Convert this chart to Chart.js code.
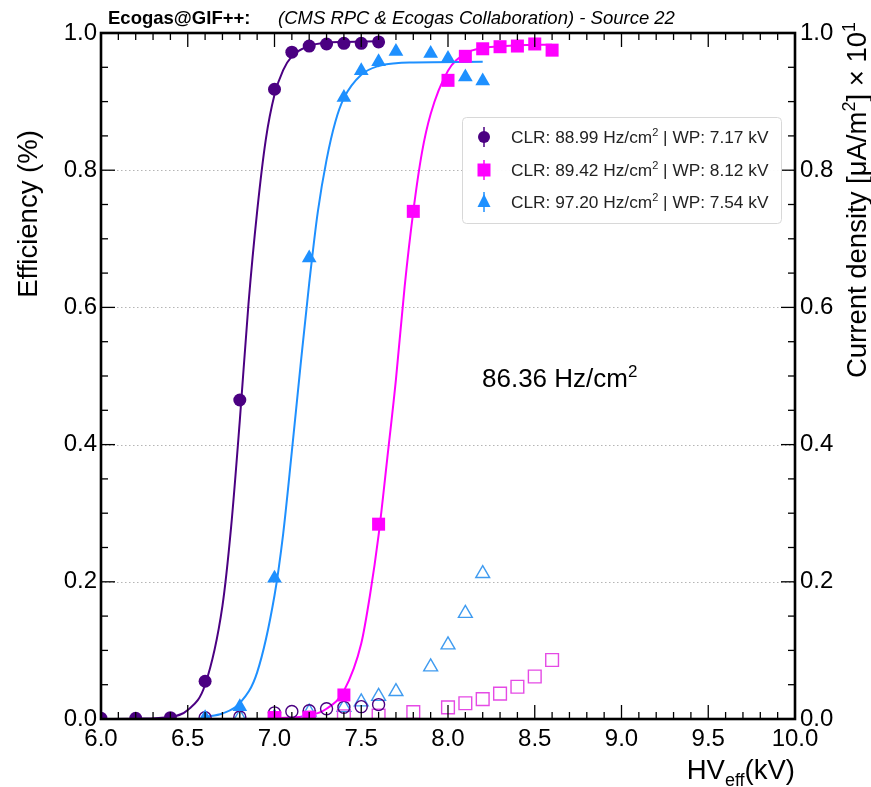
<!DOCTYPE html>
<html>
<head>
<meta charset="utf-8">
<script src="https://cdn.jsdelivr.net/npm/chart.js@4.4.0/dist/chart.umd.min.js"></script>
<style>
  body { margin: 0; background: #fff; }
  canvas { display: block; }
</style>
</head>
<body>
<canvas id="eff_chart" width="871" height="787"></canvas>
<script>
// ---- values ----
// efficiency points (left axis)
const hv_purple  = [6.0, 6.2, 6.4, 6.6, 6.8, 7.0, 7.1, 7.2, 7.3, 7.4, 7.5, 7.6];
const eff_purple = [0.001, 0.001, 0.002, 0.055, 0.465, 0.918, 0.972, 0.981, 0.984, 0.985, 0.985, 0.987];
const hv_magenta  = [7.0, 7.2, 7.4, 7.6, 7.8, 8.0, 8.1, 8.2, 8.3, 8.4, 8.5, 8.6];
const eff_magenta = [0.002, 0.002, 0.035, 0.284, 0.740, 0.931, 0.966, 0.977, 0.980, 0.981, 0.984, 0.975];
const hv_blue  = [6.6, 6.8, 7.0, 7.2, 7.4, 7.5, 7.6, 7.7, 7.9, 8.0, 8.1, 8.2];
const eff_blue = [0.002, 0.018, 0.205, 0.672, 0.906, 0.945, 0.958, 0.973, 0.970, 0.963, 0.936, 0.930];

// current density points (right axis, x 10^1 uA/m2)
const hv_cur_purple = [6.6, 6.8, 7.0, 7.1, 7.2, 7.3, 7.4, 7.5, 7.6];
const cur_purple    = [0.002, 0.003, 0.009, 0.011, 0.012, 0.015, 0.017, 0.018, 0.021];
const hv_cur_magenta = [7.0, 7.2, 7.4, 7.6, 7.8, 8.0, 8.1, 8.2, 8.3, 8.4, 8.5, 8.6];
const cur_magenta    = [0.001, 0.002, 0.004, 0.005, 0.010, 0.017, 0.023, 0.029, 0.037, 0.047, 0.062, 0.086];
const hv_cur_blue = [6.8, 7.0, 7.2, 7.4, 7.5, 7.6, 7.7, 7.9, 8.0, 8.1, 8.2];
const cur_blue    = [0.002, 0.002, 0.010, 0.017, 0.025, 0.033, 0.040, 0.076, 0.108, 0.154, 0.212];

// sigmoid fit curves, read at a few voltages
const fit_hv_purple  = [6.0, 6.2, 6.4, 6.5, 6.6, 6.7, 6.75, 6.8, 6.85, 6.9, 6.95, 7.0, 7.05, 7.1, 7.2, 7.3, 7.4, 7.6];
const fit_eff_purple = [0.0, 0.0005, 0.003, 0.013, 0.05, 0.165, 0.28, 0.435, 0.605, 0.74, 0.845, 0.91, 0.946, 0.966, 0.981, 0.986, 0.987, 0.988];
const fit_hv_blue  = [6.6, 6.7, 6.8, 6.9, 7.0, 7.05, 7.1, 7.15, 7.2, 7.25, 7.3, 7.35, 7.4, 7.5, 7.6, 7.7, 7.8, 8.2];
const fit_eff_blue = [0.003, 0.008, 0.023, 0.068, 0.18, 0.27, 0.39, 0.515, 0.635, 0.74, 0.815, 0.87, 0.905, 0.939, 0.952, 0.956, 0.957, 0.958];
const fit_hv_magenta  = [7.0, 7.2, 7.3, 7.4, 7.5, 7.55, 7.6, 7.65, 7.7, 7.75, 7.8, 7.85, 7.9, 8.0, 8.1, 8.2, 8.4, 8.6];
const fit_eff_magenta = [0.001, 0.005, 0.015, 0.041, 0.11, 0.18, 0.268, 0.38, 0.495, 0.63, 0.74, 0.826, 0.882, 0.945, 0.97, 0.978, 0.982, 0.983];

// tick labels
const x_tick_labels = ['6.0', '6.5', '7.0', '7.5', '8.0', '8.5', '9.0', '9.5', '10.0'];
const y_tick_labels = ['0.0', '0.2', '0.4', '0.6', '0.8', '1.0'];

// legend / annotation text
const legend_rates = ['88.99', '89.42', '97.20'];
const legend_wp    = ['7.17', '8.12', '7.54'];
const rate_label   = '86.36';

const PURPLE = '#4b0082';
const MAGENTA = '#ff00ff';
const BLUE = '#1e90ff';
const FONT = "'Liberation Sans', Arial, Helvetica, sans-serif";

function pts(xs, ys) { return xs.map((x, i) => ({ x: x, y: ys[i] })); }

// draws text made of normal / superscript / subscript pieces
function rich_text(ctx, segs, x, y, align, size, style) {
    style = style || '';
    const fontFor = t => `${style} ${t === 'n' ? size : Math.round(size * 0.66)}px ${FONT}`;
    let total = 0;
    for (const s of segs) { ctx.font = fontFor(s[1]); total += ctx.measureText(s[0]).width; }
    let cx = align === 'right' ? x - total : (align === 'center' ? x - total / 2 : x);
    ctx.textAlign = 'left';
    ctx.textBaseline = 'alphabetic';
    for (const s of segs) {
        ctx.font = fontFor(s[1]);
        const dy = s[1] === 'sup' ? -size * 0.4 : (s[1] === 'sub' ? size * 0.25 : 0);
        ctx.fillText(s[0], cx, y + dy);
        cx += ctx.measureText(s[0]).width;
    }
}

const decor = {
    id: 'decor',
    beforeDatasetsDraw(chart) {
        // dotted horizontal grid
        const ctx = chart.ctx, a = chart.chartArea, ys = chart.scales.y;
        ctx.save();
        ctx.strokeStyle = '#b5b5b5';
        ctx.lineWidth = 1;
        ctx.setLineDash([1.5, 2.5]);
        for (let i = 1; i < y_tick_labels.length - 1; i++) {
            const py = Math.round(ys.getPixelForValue(+y_tick_labels[i])) + 0.5;
            ctx.beginPath(); ctx.moveTo(a.left, py); ctx.lineTo(a.right, py); ctx.stroke();
        }
        ctx.restore();
    },
    afterDraw(chart) {
        const ctx = chart.ctx, a = chart.chartArea, xs = chart.scales.x, ys = chart.scales.y;
        ctx.save();
        ctx.fillStyle = '#000';
        ctx.strokeStyle = '#000';

        // inner ticks, ROOT style
        ctx.lineWidth = 1.3;
        const seg = (x1, y1, x2, y2) => { ctx.beginPath(); ctx.moveTo(x1, y1); ctx.lineTo(x2, y2); ctx.stroke(); };
        for (let i = 0; i <= 40; i++) {
            const px = xs.getPixelForValue(6 + i * 0.1);
            const len = i % 5 === 0 ? 14 : 7;
            seg(px, a.bottom, px, a.bottom - len);
            seg(px, a.top, px, a.top + len);
        }
        for (let i = 0; i <= 20; i++) {
            const py = ys.getPixelForValue(i * 0.05);
            const len = i % 4 === 0 ? 14 : 7;
            seg(a.left, py, a.left + len, py);
            seg(a.right, py, a.right - len, py);
        }

        // frame
        ctx.lineWidth = 2.6;
        ctx.strokeRect(a.left, a.top, a.right - a.left, a.bottom - a.top);

        // legend box
        const lx = 462, ly = 117, lw = 319, lh = 106;
        ctx.fillStyle = 'rgba(255,255,255,0.95)';
        ctx.strokeStyle = '#d8d8d8';
        ctx.lineWidth = 1;
        ctx.beginPath();
        ctx.roundRect(lx + 0.5, ly + 0.5, lw, lh, 4);
        ctx.fill(); ctx.stroke();
        const rows = [137, 170, 202];
        const cols = [PURPLE, MAGENTA, BLUE];
        for (let i = 0; i < 3; i++) {
            const mx = 484, my = rows[i];
            ctx.strokeStyle = cols[i]; ctx.fillStyle = cols[i]; ctx.lineWidth = 1.5;
            seg(mx, my - 10, mx, my + 10);
            ctx.beginPath();
            if (i === 0) ctx.arc(mx, my, 6, 0, Math.PI * 2);
            else if (i === 1) ctx.rect(mx - 6.5, my - 6.5, 13, 13);
            else { ctx.moveTo(mx, my - 8); ctx.lineTo(mx + 6.5, my + 5); ctx.lineTo(mx - 6.5, my + 5); ctx.closePath(); }
            ctx.fill();
            ctx.fillStyle = '#222';
            rich_text(ctx, [[`CLR: ${legend_rates[i]} Hz/cm`, 'n'], ['2', 'sup'], [` | WP: ${legend_wp[i]} kV`, 'n']],
                511, my + 6, 'left', 17.3);
        }

        ctx.fillStyle = '#000';
        // rate annotation
        rich_text(ctx, [[`${rate_label} Hz/cm`, 'n'], ['2', 'sup']], 482, 387, 'left', 26);

        // header
        ctx.font = `bold 18.5px ${FONT}`;
        ctx.textAlign = 'left'; ctx.textBaseline = 'alphabetic';
        ctx.fillText('Ecogas@GIF++:', 108, 24);
        ctx.font = `italic 18.5px ${FONT}`;
        ctx.fillText('(CMS RPC & Ecogas Collaboration) - Source 22', 278, 24);

        // x title
        rich_text(ctx, [['HV', 'n'], ['eff', 'sub'], ['(kV)', 'n']], 795, 779, 'right', 27.5);

        // left title
        ctx.save();
        ctx.translate(37, 214);
        ctx.rotate(-Math.PI / 2);
        rich_text(ctx, [['Efficiency (%)', 'n']], 0, 0, 'center', 27.5);
        ctx.restore();

        // right title
        ctx.save();
        ctx.translate(866, 22);
        ctx.rotate(-Math.PI / 2);
        rich_text(ctx, [['Current density [\u03bcA/m', 'n'], ['2', 'sup'], ['] \u00d7 10', 'n'], ['1', 'sup']], 0, 0, 'right', 27.5);
        ctx.restore();

        ctx.restore();
    }
};

const fit_line = (data, color) => ({
    data: data, showLine: true, borderColor: color, borderWidth: 2, pointRadius: 0,
    cubicInterpolationMode: 'monotone', yAxisID: 'y', order: 10
});

const config = {
    type: 'scatter',
    data: {
        datasets: [
            fit_line(pts(fit_hv_purple, fit_eff_purple), PURPLE),
            fit_line(pts(fit_hv_blue, fit_eff_blue), BLUE),
            fit_line(pts(fit_hv_magenta, fit_eff_magenta), MAGENTA),
            // current density, open markers
            { data: pts(hv_cur_purple, cur_purple), yAxisID: 'y1', pointStyle: 'circle', pointRadius: 6,
              borderColor: PURPLE, borderWidth: 1.4, backgroundColor: 'rgba(0,0,0,0)', order: 5 },
            { data: pts(hv_cur_magenta, cur_magenta), yAxisID: 'y1', pointStyle: 'rect', pointRadius: 9,
              borderColor: '#e54ae5', borderWidth: 1.4, backgroundColor: 'rgba(0,0,0,0)', order: 5 },
            { data: pts(hv_cur_blue, cur_blue), yAxisID: 'y1', pointStyle: 'triangle', pointRadius: 8,
              borderColor: '#3f9bf0', borderWidth: 1.4, backgroundColor: 'rgba(0,0,0,0)', order: 5 },
            // efficiency, filled markers
            { data: pts(hv_purple, eff_purple), yAxisID: 'y', pointStyle: 'circle', pointRadius: 6.5,
              borderWidth: 0, backgroundColor: PURPLE, order: 1 },
            { data: pts(hv_magenta, eff_magenta), yAxisID: 'y', pointStyle: 'rect', pointRadius: 9.2,
              borderWidth: 0, backgroundColor: MAGENTA, order: 1 },
            { data: pts(hv_blue, eff_blue), yAxisID: 'y', pointStyle: 'triangle', pointRadius: 8.5,
              borderWidth: 0, backgroundColor: BLUE, order: 1 }
        ]
    },
    options: {
        responsive: false,
        animation: false,
        layout: { padding: { top: 33, left: 0, right: 0, bottom: 0 } },
        plugins: { legend: { display: false }, tooltip: { enabled: false } },
        scales: {
            x: {
                type: 'linear', min: 6, max: 10,
                ticks: { stepSize: 0.5, color: '#000', font: { family: FONT, size: 24 }, padding: 6,
                         maxRotation: 0, autoSkip: false,
                         callback: (v, i) => x_tick_labels[i] },
                grid: { display: false, drawTicks: false }, border: { display: false },
                afterFit: s => { s.height = 68; }
            },
            y: {
                type: 'linear', position: 'left', min: 0, max: 1,
                ticks: { stepSize: 0.2, color: '#000', font: { family: FONT, size: 24 }, padding: 4,
                         callback: (v, i) => y_tick_labels[i] },
                grid: { display: false, drawTicks: false }, border: { display: false },
                afterFit: s => { s.width = 101; }
            },
            y1: {
                type: 'linear', position: 'right', min: 0, max: 1,
                ticks: { stepSize: 0.2, color: '#000', font: { family: FONT, size: 24 }, padding: 5,
                         callback: (v, i) => y_tick_labels[i] },
                grid: { display: false, drawTicks: false }, border: { display: false },
                afterFit: s => { s.width = 76; }
            }
        }
    },
    plugins: [decor]
};

const canvas = document.getElementById('eff_chart');
let eff_chart = new Chart(canvas, config);
</script>
</body>
</html>
